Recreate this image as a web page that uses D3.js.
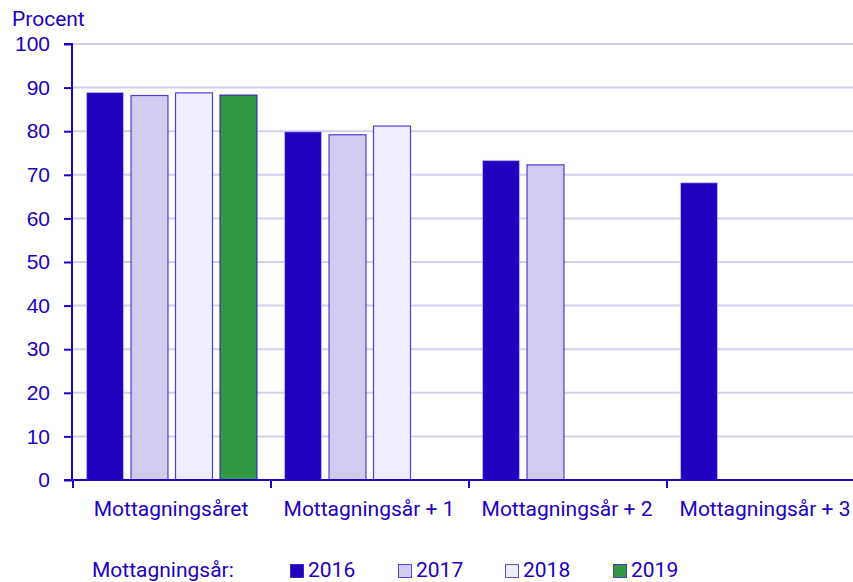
<!DOCTYPE html>
<html>
<head>
<meta charset="utf-8">
<script src="https://cdn.jsdelivr.net/npm/d3@7"></script>
<style>
  body { margin: 0; background: #fff; }
  svg { font-family: Roboto, "Noto Sans", sans-serif; }
</style>
</head>
<body>
<div id="chart"></div>
<script>
const categories = ["Mottagningsåret", "Mottagningsår + 1", "Mottagningsår + 2", "Mottagningsår + 3"];
const years = ["2016", "2017", "2018", "2019"];
const values2016 = [89.0, 80.0, 73.4, 68.3];
const values2017 = [88.3, 79.3, 72.4, null];
const values2018 = [88.9, 81.3, null, null];
const values2019 = [88.4, null, null, null];
const yTicks = [0, 10, 20, 30, 40, 50, 60, 70, 80, 90, 100];

const series = [values2016, values2017, values2018, values2019];
const fills = ["#2200C0", "#D0CCF0", "#EEEEFF", "#339944"];
const ink = "#2200C0";

function drawChart() {
    const width = 853, height = 582;
    const margin = {left: 72, top: 44, bottom: 102};

    const svg = d3.select("#chart")
        .append("svg")
        .attr("width", width)
        .attr("height", height);

    const x = d3.scaleBand()
        .domain(categories)
        .range([margin.left, margin.left + 792]);

    const xInner = d3.scaleBand()
        .domain(years)
        .range([14, 185.5])
        .paddingInner(0.146);

    const y = d3.scaleLinear()
        .domain([0, 100])
        .range([height - margin.bottom, margin.top]);

    // gridlines
    svg.append("g")
        .selectAll("line")
        .data(yTicks.filter(t => t > 0))
        .enter()
        .append("line")
        .attr("x1", margin.left)
        .attr("x2", width)
        .attr("y1", d => y(d))
        .attr("y2", d => y(d))
        .attr("stroke", "#D2D0EE")
        .attr("stroke-width", 2);

    // bars
    const groups = svg.selectAll(".grp")
        .data(categories)
        .enter()
        .append("g")
        .attr("class", "grp")
        .attr("transform", d => `translate(${x(d)},0)`);

    groups.selectAll("rect")
        .data((c, ci) => years.map((yr, si) => ({yr, si, v: series[si][ci]})).filter(d => d.v != null))
        .enter()
        .append("rect")
        .attr("x", d => xInner(d.yr) + 0.5)
        .attr("y", d => y(d.v) + 0.5)
        .attr("width", xInner.bandwidth() - 1)
        .attr("height", d => y(0) - y(d.v) - 0.5)
        .attr("fill", d => fills[d.si])
        .attr("stroke", d => d.si === 0 ? "#D0CCF0" : ink)
        .attr("stroke-opacity", d => d.si === 0 ? 0.6 : 0.75)
        .attr("stroke-width", 1.2);

    // y axis
    const yAxis = svg.append("g")
        .attr("transform", `translate(${margin.left},0)`)
        .call(d3.axisLeft(y).tickValues(yTicks).tickSize(8).tickPadding(14));
    yAxis.select(".domain").attr("stroke", ink).attr("stroke-width", 2).attr("d", `M-8,${y(100)}H0V${y(0)}`);
    yAxis.selectAll(".tick line").attr("stroke", ink).attr("stroke-width", 2);
    yAxis.selectAll(".tick text").attr("fill", ink).style("font-size", "21px");

    // x axis
    const xAxis = svg.append("g")
        .attr("transform", `translate(0,${y(0)})`);
    xAxis.append("line")
        .attr("x1", margin.left - 8)
        .attr("x2", width)
        .attr("stroke", ink)
        .attr("stroke-width", 2);
    xAxis.selectAll(".xt")
        .data(categories)
        .enter()
        .append("line")
        .attr("x1", d => x(d) + 1)
        .attr("x2", d => x(d) + 1)
        .attr("y1", 0)
        .attr("y2", 8)
        .attr("stroke", ink)
        .attr("stroke-width", 2);
    xAxis.selectAll(".xl")
        .data(categories)
        .enter()
        .append("text")
        .attr("x", d => x(d) + x.bandwidth() / 2)
        .attr("y", 36)
        .attr("text-anchor", "middle")
        .attr("fill", ink)
        .style("font-size", "21px")
        .text(d => d);

    svg.append("text")
        .attr("x", 12)
        .attr("y", 26)
        .attr("fill", ink)
        .style("font-size", "21px")
        .text("Procent");

    // legend
    const legendX = [290, 398, 505, 613];
    svg.append("text")
        .attr("x", 92)
        .attr("y", 577)
        .attr("fill", ink)
        .style("font-size", "21px")
        .text("Mottagningsår:");

    const leg = svg.selectAll(".leg")
        .data(years)
        .enter()
        .append("g")
        .attr("transform", (d, i) => `translate(${legendX[i]},0)`);
    leg.append("rect")
        .attr("x", 0.5)
        .attr("y", 564.5)
        .attr("width", 13)
        .attr("height", 13)
        .attr("fill", (d, i) => fills[i])
        .attr("stroke", ink)
        .attr("stroke-opacity", 0.7);
    leg.append("text")
        .attr("x", 18)
        .attr("y", 577)
        .attr("fill", ink)
        .style("font-size", "21px")
        .text(d => d);
}

drawChart();
</script>
</body>
</html>
